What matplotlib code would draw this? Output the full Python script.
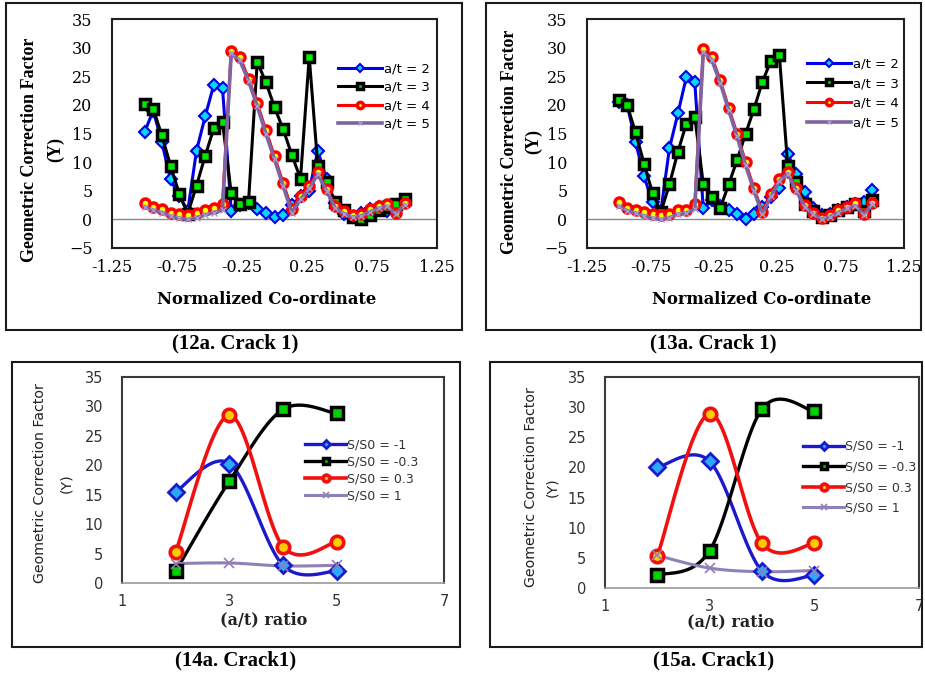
import matplotlib
matplotlib.use("Agg")
import matplotlib.pyplot as plt
import numpy as np
from matplotlib.lines import Line2D
from matplotlib.patches import Rectangle

# ---------------- data ----------------
coord = [-1.0, -0.933, -0.867, -0.8, -0.733, -0.667, -0.6, -0.533, -0.467, -0.4,
         -0.333, -0.267, -0.2, -0.133, -0.067, 0.0, 0.067, 0.133, 0.2, 0.267,
         0.333, 0.4, 0.467, 0.533, 0.6, 0.667, 0.733, 0.8, 0.867, 0.933, 1.0]

# Fig 12a (Crack 1)
at2_12 = [15.2, 19.0, 13.5, 7.0, 4.0, 1.5, 12.0, 18.0, 23.5, 23.0, 1.5, 2.5, 2.8, 1.8, 1.2, 0.4,
          0.8, 2.5, 4.0, 5.0, 12.0, 7.0, 2.8, 1.0, 0.5, 1.2, 1.8, 2.2, 1.5, 2.5, 3.2]
at3_12 = [20.1, 19.3, 14.7, 9.4, 4.5, 1.0, 5.9, 11.1, 15.9, 17.0, 4.6, 2.7, 3.0, 27.5, 24.0, 19.6,
          15.7, 11.3, 7.1, 28.4, 9.4, 6.5, 3.0, 1.6, 0.4, 0.0, 0.7, 1.6, 2.2, 2.7, 3.6]
at4_12 = [2.9, 2.1, 1.8, 1.2, 0.9, 0.8, 1.2, 1.7, 2.0, 2.7, 29.4, 28.4, 24.6, 20.3, 15.6, 11.0,
          6.3, 1.8, 4.0, 5.8, 8.2, 5.3, 2.4, 1.4, 0.8, 1.0, 1.8, 2.4, 2.7, 1.2, 2.8]
at5_12 = [2.2, 1.6, 1.2, 0.6, 0.2, 0.0, 0.3, 0.8, 1.2, 1.6, 29.0, 27.8, 24.2, 19.8, 15.0, 10.5,
          5.8, 1.2, 3.5, 5.4, 7.9, 5.0, 2.0, 1.0, 0.4, 0.6, 1.3, 1.9, 2.3, 0.9, 2.5]

# Fig 13a (Crack 1)
at2_13 = [20.5, 20.0, 13.5, 7.5, 3.0, 1.5, 12.4, 18.5, 24.8, 24.0, 1.9, 3.3, 2.4, 1.6, 1.0, 0.1,
          1.0, 2.2, 3.9, 5.4, 11.5, 8.0, 4.8, 2.0, 0.8, 1.0, 1.6, 2.2, 2.6, 3.0, 5.1]
at3_13 = [20.8, 19.9, 15.2, 9.7, 4.6, 1.3, 6.1, 11.8, 16.7, 17.9, 6.2, 3.9, 1.9, 6.1, 10.3, 14.9,
          19.3, 24.0, 27.7, 28.7, 9.3, 6.5, 2.7, 1.5, 0.5, 0.8, 1.6, 2.2, 2.7, 1.5, 3.3]
at4_13 = [3.0, 1.9, 1.6, 1.3, 1.0, 0.7, 1.0, 1.7, 1.6, 2.6, 29.7, 28.4, 24.3, 19.5, 15.0, 10.0,
          5.4, 1.3, 4.5, 7.1, 8.3, 5.4, 2.5, 1.2, 0.3, 0.8, 1.6, 2.2, 2.8, 1.0, 2.9]
at5_13 = [2.3, 1.5, 1.1, 0.6, 0.2, 0.0, 0.3, 0.9, 1.1, 1.8, 29.2, 27.9, 23.9, 19.1, 14.5, 9.5,
          5.0, 0.9, 4.0, 6.7, 8.0, 5.0, 2.2, 0.9, 0.1, 0.5, 1.2, 1.9, 2.4, 0.8, 2.6]

at_labels = ["a/t = 2", "a/t = 3", "a/t = 4", "a/t = 5"]

# Fig 14a / 15a (Crack1)
ratio = [2, 3, 4, 5]
s_m1_14 = [15.5, 20.3, 3.0, 2.0]
s_m03_14 = [2.0, 17.3, 29.5, 28.8]
s_p03_14 = [5.3, 28.5, 6.2, 7.0]
s_p1_14 = [3.3, 3.4, 2.9, 3.0]

s_m1_15 = [20.0, 21.0, 2.8, 2.1]
s_m03_15 = [2.1, 6.2, 29.7, 29.3]
s_p03_15 = [5.3, 28.9, 7.4, 7.4]
s_p1_15 = [5.4, 3.3, 2.7, 2.9]

s_labels = ["S/S0 = -1", "S/S0 = -0.3", "S/S0 = 0.3", "S/S0 = 1"]

top_xticks = [-1.25, -0.75, -0.25, 0.25, 0.75, 1.25]
top_xticklabels = ["-1.25", "-0.75", "-0.25", "0.25", "0.75", "1.25"]
top_yticks = [-5, 0, 5, 10, 15, 20, 25, 30, 35]
bot_xticks = [1, 3, 5, 7]
bot_yticks = [0, 5, 10, 15, 20, 25, 30, 35]

captions = ["(12a. Crack 1)", "(13a. Crack 1)", "(14a. Crack1)", "(15a. Crack1)"]

# ---------------- styles ----------------
W, H = 925, 673
fig = plt.figure(figsize=(W / 100, H / 100), dpi=100)


def fx(px):
    return px / W


def fy(py):
    return 1 - py / H


def ax_at(l, t, r, b):
    return fig.add_axes([l / W, 1 - b / H, (r - l) / W, (b - t) / H])


top_styles = [
    dict(color="#0000e6", lw=2.2, marker="D", ms=6, mfc="#00d8ff", mec="#0000e6", mew=1.5),
    dict(color="black", lw=2.2, marker="s", ms=7, mfc="#00e600", mec="black", mew=2.5),
    dict(color="#ff0000", lw=2.2, marker="o", ms=6.5, mfc="#ffff00", mec="#ff0000", mew=2.5),
    dict(color="#8064a2", lw=2.6, marker="x", ms=5, mfc="#a898cc", mec="#a898cc", mew=1.0),
]
bot_styles = [
    dict(color="#1a1acc", lw=2.4, marker="D", ms=8, mfc="#2aa8ff", mec="#1a1acc", mew=2.0),
    dict(color="black", lw=2.4, marker="s", ms=9, mfc="#00d000", mec="black", mew=2.5),
    dict(color="#f01010", lw=2.6, marker="o", ms=9, mfc="#ffcc00", mec="#f01010", mew=2.6),
    dict(color="#8f80b8", lw=2.2, marker="x", ms=7, mfc="#8f80b8", mec="#8f80b8", mew=1.2),
]


def smooth(xs, ys, n=40):
    P = np.column_stack([np.asarray(xs, float), np.asarray(ys, float)])
    out = [P[0]]
    t = np.linspace(0, 1, n)[1:]
    for i in range(len(P) - 1):
        p0 = P[i - 1] if i > 0 else P[i]
        p1, p2 = P[i], P[i + 1]
        p3 = P[i + 2] if i + 2 < len(P) else P[i + 1]
        c1 = p1 + (p2 - p0) / 6
        c2 = p2 - (p3 - p1) / 6
        seg = (((1 - t) ** 3)[:, None] * p1 + (3 * (1 - t) ** 2 * t)[:, None] * c1
               + (3 * (1 - t) * t ** 2)[:, None] * c2 + (t ** 3)[:, None] * p2)
        out.extend(seg)
    out = np.array(out)
    return out[:, 0], out[:, 1]


def top_panel(box, series, leg_x, leg_cy, leg_spacing_pts):
    ax = ax_at(*box)
    ax.set_xlim(-1.25, 1.25)
    ax.set_ylim(-5, 35)
    ax.axhline(0, color="#8a8a8a", lw=1.0, zorder=1)
    handles = []
    for y, st, lab in zip(series, top_styles, at_labels):
        ax.plot(coord, y, zorder=3, **st)
        handles.append(Line2D([], [], label=lab, **st))
    ax.set_xticks(top_xticks)
    ax.set_xticklabels(top_xticklabels)
    ax.set_yticks(top_yticks)
    ax.tick_params(axis="both", length=0, labelsize=11.5)
    ax.tick_params(axis="x", pad=8)
    ax.tick_params(axis="y", pad=14)
    for lbl in ax.get_xticklabels() + ax.get_yticklabels():
        lbl.set_fontfamily("DejaVu Serif")
    for s in ax.spines.values():
        s.set_color("#202020")
        s.set_linewidth(1.5)
    fs = 9.5
    ax.legend(handles=handles, loc="center left",
              bbox_to_anchor=(fx(leg_x), fy(leg_cy)), bbox_transform=fig.transFigure,
              frameon=False, borderpad=0, borderaxespad=0, handlelength=3.3,
              handletextpad=0.15, labelspacing=(leg_spacing_pts - fs * 1.17) / fs,
              prop=dict(family="DejaVu Sans", size=fs), numpoints=1, markerscale=0.7)
    return ax


def bot_panel(box, series, leg_x, leg_cy, leg_spacing_pts):
    ax = ax_at(*box)
    ax.set_xlim(1, 7)
    ax.set_ylim(0, 35)
    handles = []
    for y, st, lab in zip(series, bot_styles, s_labels):
        sx, sy = smooth(ratio, y)
        line_st = {k: v for k, v in st.items() if k in ("color", "lw")}
        mark_st = {k: v for k, v in st.items() if k not in ("lw",)}
        ax.plot(sx, sy, zorder=3, solid_capstyle="round", **line_st)
        ax.plot(ratio, y, ls="none", zorder=4, **mark_st)
        handles.append(Line2D([], [], label=lab, **st))
    ax.set_xticks(bot_xticks)
    ax.set_yticks(bot_yticks)
    ax.tick_params(axis="both", length=0, labelsize=10.5, labelcolor="#333333")
    ax.tick_params(axis="x", pad=8)
    ax.tick_params(axis="y", pad=13.5)
    for name, s in ax.spines.items():
        s.set_color("#3a3a3a")
        s.set_linewidth(1.5)
    ax.spines["bottom"].set_color("#9a9a9a")
    ax.spines["bottom"].set_linewidth(1.2)
    fs = 9
    ax.legend(handles=handles, loc="center left",
              bbox_to_anchor=(fx(leg_x), fy(leg_cy)), bbox_transform=fig.transFigure,
              frameon=False, borderpad=0, borderaxespad=0, handlelength=3.3,
              handletextpad=0.05, labelspacing=(leg_spacing_pts - fs * 1.17) / fs,
              prop=dict(family="DejaVu Sans", size=fs), numpoints=1,
              labelcolor="#333333", markerscale=0.55)
    return ax


# ---------------- outer boxes ----------------
for (l, t, r, b) in [(6, 3, 462, 330), (486, 3, 921, 330), (12, 362, 460, 647), (490, 362, 922, 647)]:
    fig.add_artist(Rectangle((fx(l), fy(b)), (r - l) / W, (b - t) / H, transform=fig.transFigure,
                             fill=False, edgecolor="#1a1a1a", lw=1.5))

# ---------------- panels ----------------
top_panel((112, 19, 437, 248), [at2_12, at3_12, at4_12, at5_12], 338, 96.5, 21 / 1.39)
top_panel((587, 19, 904, 248), [at2_13, at3_13, at4_13, at5_13], 807, 93.5, 22.3 / 1.39)
bot_panel((122, 377, 444, 583), [s_m1_14, s_m03_14, s_p03_14, s_p1_14], 305, 470.5, 18.5 / 1.39)
bot_panel((605, 377, 919, 588), [s_m1_15, s_m03_15, s_p03_15, s_p1_15], 803, 477.3, 22.2 / 1.39)

# ---------------- axis titles ----------------
for cx in (267, 762):
    fig.text(fx(cx), fy(300), "Normalized Co-ordinate", ha="center", va="center",
             family="DejaVu Serif", weight="bold", size=11.8)
for (x1, x2, cy) in [(30, 56, 150), (510, 534, 142)]:
    fig.text(fx(x1), fy(cy), "Geometric Correction Factor", rotation=90, ha="center", va="center",
             family="Liberation Serif", weight="bold", size=13)
    fig.text(fx(x2), fy(cy), "(Y)", rotation=90, ha="center", va="center",
             family="Liberation Serif", weight="bold", size=13)

for (cx, cy) in [(264, 620), (731, 622)]:
    fig.text(fx(cx), fy(cy), "(a/t) ratio", ha="center", va="center",
             family="DejaVu Serif", weight="bold", size=11.5, color="#222222")
for (x1, x2, cy) in [(40, 66, 483), (531, 552, 487)]:
    fig.text(fx(x1), fy(cy), "Geometric Correction Factor", rotation=90, ha="center", va="center",
             family="DejaVu Sans", size=10.2, color="#222222")
    fig.text(fx(x2), fy(cy), "(Y)", rotation=90, ha="center", va="center",
             family="DejaVu Sans", size=10.2, color="#222222")

# ---------------- captions ----------------
for (cx, cy), cap in zip([(235, 343), (713, 343), (236, 660), (714, 660)], captions):
    fig.text(fx(cx), fy(cy), cap, ha="center", va="center",
             family="Liberation Serif", weight="bold", size=15)

fig.savefig("out.png", dpi=100)
